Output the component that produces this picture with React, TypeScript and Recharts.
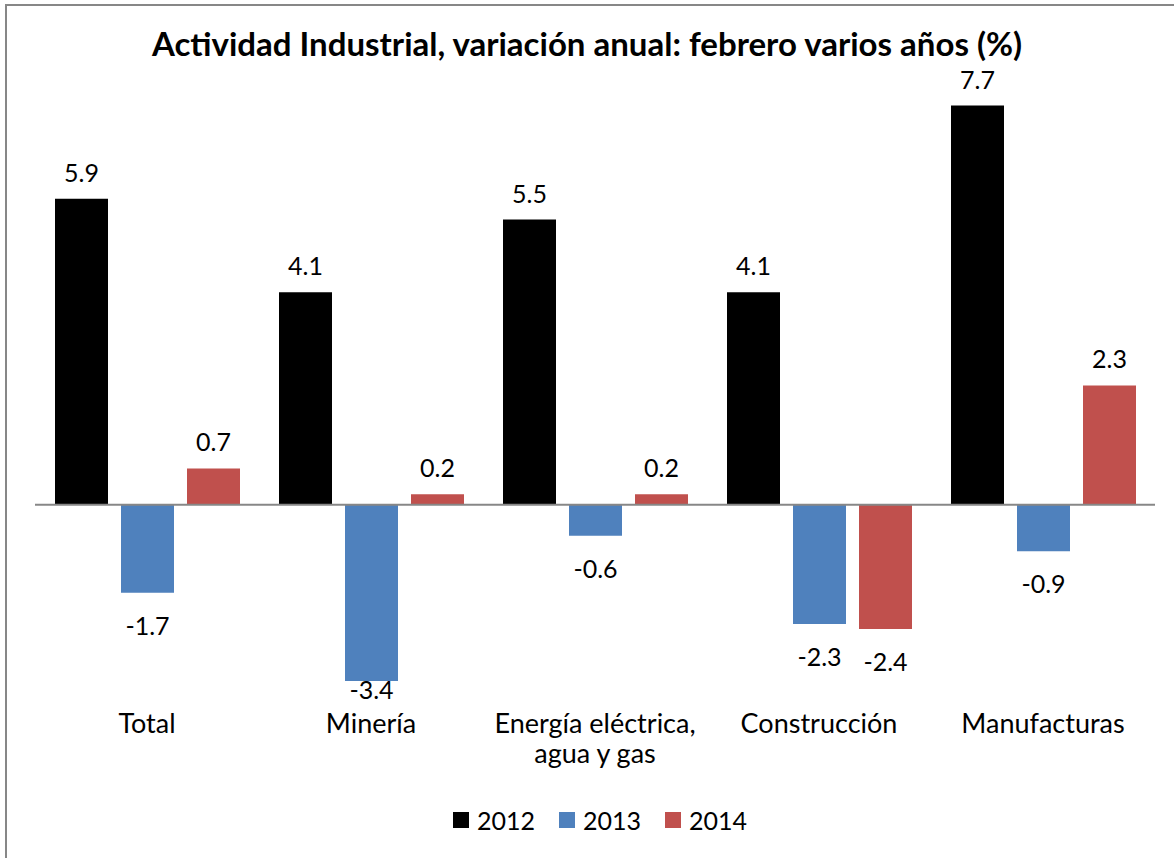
import { Bar, BarChart, LabelList, Legend, ReferenceLine, XAxis, YAxis } from "recharts";

const categories = ["Total", "Minería", "Energía eléctrica, agua y gas", "Construcción", "Manufacturas"];
const tickLines = [["Total"], ["Minería"], ["Energía eléctrica,", "agua y gas"], ["Construcción"], ["Manufacturas"]];
const years = ["2012", "2013", "2014"];
const values2012 = [5.9, 4.1, 5.5, 4.1, 7.7];
const values2013 = [-1.7, -3.4, -0.6, -2.3, -0.9];
const values2014 = [0.7, 0.2, 0.2, -2.4, 2.3];
const colors = ["#000000", "#4F81BD", "#C0504D"];

const data = categories.map((name, i) => ({
  name,
  "2012": values2012[i],
  "2013": values2013[i],
  "2014": values2014[i],
}));

const FONT = "Lato, 'Open Sans', sans-serif";
const W = 1174;
const H = 858;
const LABEL_FLOOR = 699;

function CategoryTick(props: any) {
  const { x, y, payload } = props;
  const idx = categories.indexOf(payload.value);
  const lines = tickLines[idx] ?? [payload.value];
  return (
    <text x={x} y={y} textAnchor="middle" fill="#000" fontSize={27} fontFamily={FONT}>
      {lines.map((l, i) => (
        <tspan key={i} x={x} dy={i === 0 ? 13 : 30}>
          {l}
        </tspan>
      ))}
    </text>
  );
}

const renderValue = (props: any) => {
  const { x, y, width, height, value } = props;
  const v = Number(value);
  const top = Math.min(y, y + height);
  const bottom = Math.max(y, y + height);
  const ty = v >= 0 ? top - 17 : Math.min(bottom + 42, LABEL_FLOOR);
  return (
    <text x={x + width / 2} y={ty} textAnchor="middle" fill="#000" fontSize={25} fontFamily={FONT}>
      {v.toFixed(1)}
    </text>
  );
};

const renderLegend = (props: any) => {
  const items = props.payload ?? [];
  return (
    <div
      style={{
        height: 40,
        display: "flex",
        justifyContent: "center",
        alignItems: "center",
        paddingLeft: 10,
        boxSizing: "border-box",
        fontFamily: FONT,
        fontSize: 25,
        color: "#000",
      }}
    >
      {items.map((it: any, i: number) => (
        <div key={it.value} style={{ display: "flex", alignItems: "center", marginLeft: i === 0 ? 0 : 24 }}>
          <span style={{ width: 16, height: 16, background: it.color, marginRight: 8, display: "inline-block" }} />
          <span>{it.value}</span>
        </div>
      ))}
    </div>
  );
};

export default function App() {
  return (
    <div style={{ position: "absolute", left: 0, top: 0, width: W, height: H, background: "#fff", overflow: "hidden" }}>
      <div
        style={{
          position: "absolute",
          left: 5,
          top: 4,
          width: W - 5,
          height: H - 4,
          borderTop: "2px solid #878787",
          borderLeft: "2px solid #878787",
          boxSizing: "border-box",
        }}
      />
      <div
        style={{
          position: "absolute",
          left: 0,
          top: 28,
          width: W,
          textAlign: "center",
          fontFamily: FONT,
          fontWeight: 700,
          fontSize: 33,
          lineHeight: "30px",
          color: "#000",
        }}
      >
        Actividad Industrial, variación anual: febrero varios años (%)
      </div>
      <BarChart
        width={W}
        height={H}
        data={data}
        margin={{ top: 90, right: 19, left: 35, bottom: 18 }}
        barSize={53}
        barGap={13}
      >
        <XAxis
          dataKey="name"
          axisLine={false}
          tickLine={false}
          height={88}
          interval={0}
          tick={<CategoryTick />}
        />
        <YAxis hide domain={[-4, 8]} />
        <ReferenceLine y={0} stroke="#878787" strokeWidth={2} />
        <Legend verticalAlign="bottom" content={renderLegend} />
        {years.map((yr, i) => (
          <Bar key={yr} dataKey={yr} fill={colors[i]} isAnimationActive={false}>
            <LabelList dataKey={yr} content={renderValue} />
          </Bar>
        ))}
      </BarChart>
    </div>
  );
}
